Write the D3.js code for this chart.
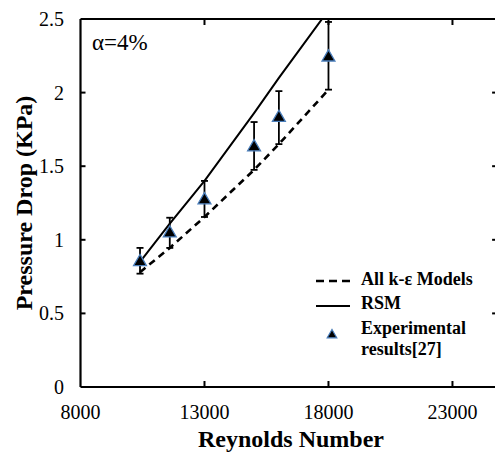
<!DOCTYPE html>
<html>
<head>
<meta charset="utf-8">
<script src="https://cdn.jsdelivr.net/npm/d3@7"></script>
<style>
  html, body { margin: 0; padding: 0; background: #fff; }
  svg { display: block; }
</style>
</head>
<body>
<svg id="chart" width="495" height="457"></svg>
<script>
// Reynolds numbers of the test cases
const reynolds = [10400, 11600, 13000, 15000, 16000, 18000];
// Pressure drop (kPa) predicted by the k-epsilon family and the RSM model
const kEpsilon = [0.78, 0.945, 1.155, 1.475, 1.65, 2.02];
const rsm = [0.85, 1.11, 1.40, 1.86, 2.10, 2.56];
// Experimental pressure drop with error bar limits
const experimental = [0.85, 1.045, 1.27, 1.63, 1.83, 2.24];
const errLow = [0.77, 0.945, 1.155, 1.475, 1.65, 2.02];
const errHigh = [0.945, 1.15, 1.40, 1.80, 2.01, 2.48];
// Axis ticks
const xTicks = [8000, 13000, 18000, 23000];
const yTicks = [0, 0.5, 1, 1.5, 2, 2.5];

(function draw() {
  const svg = d3.select("#chart");
  const serif = '"Liberation Serif"';

  const x = d3.scaleLinear().domain([8000, 24800]).range([80.5, 497.1]);
  const y = d3.scaleLinear().domain([0, 2.5]).range([387, 19]);

  const xL = x.range()[0], xR = x.range()[1];
  const yT = y.range()[1], yB = y.range()[0];

  // clip for the model curves
  svg.append("defs").append("clipPath").attr("id", "plot")
    .append("rect").attr("x", xL).attr("y", yT)
    .attr("width", xR - xL).attr("height", yB - yT);

  // frame
  const frame = svg.append("g").attr("stroke", "#000").attr("stroke-width", 2.2).attr("fill", "none");
  frame.append("line").attr("x1", xL).attr("x2", xR + 5).attr("y1", yB).attr("y2", yB);
  frame.append("line").attr("x1", xL).attr("x2", xR + 5).attr("y1", yT).attr("y2", yT);
  frame.append("line").attr("x1", xL).attr("x2", xL).attr("y1", yT).attr("y2", yB);
  frame.append("line").attr("x1", xR).attr("x2", xR).attr("y1", yT).attr("y2", yB);

  // inward ticks
  const ticks = svg.append("g").attr("stroke", "#000").attr("stroke-width", 2);
  xTicks.slice(1).forEach(t => {
    ticks.append("line").attr("x1", x(t)).attr("x2", x(t)).attr("y1", yB).attr("y2", yB - 6);
    ticks.append("line").attr("x1", x(t)).attr("x2", x(t)).attr("y1", yT).attr("y2", yT + 6);
  });
  yTicks.slice(1, -1).forEach(t => {
    ticks.append("line").attr("x1", xL).attr("x2", xL + 5).attr("y1", y(t)).attr("y2", y(t));
    ticks.append("line").attr("x1", xR).attr("x2", xR - 5).attr("y1", y(t)).attr("y2", y(t));
  });

  // tick labels
  svg.append("g").selectAll("text").data(xTicks).join("text")
    .attr("x", d => x(d)).attr("y", 419)
    .attr("text-anchor", "middle")
    .style("font-family", serif).style("font-size", "20px")
    .text(d => d);
  svg.append("g").selectAll("text").data(yTicks).join("text")
    .attr("x", 64).attr("y", d => y(d) + 7)
    .attr("text-anchor", "end")
    .style("font-family", serif).style("font-size", "20px")
    .text(d => d);

  // axis titles
  svg.append("text")
    .attr("x", 291).attr("y", 447)
    .attr("text-anchor", "middle")
    .style("font-family", serif).style("font-size", "24px").style("font-weight", "bold")
    .text("Reynolds Number");
  svg.append("text")
    .attr("transform", "translate(32,203) rotate(-90)")
    .attr("text-anchor", "middle")
    .style("font-family", serif).style("font-size", "24px").style("font-weight", "bold")
    .text("Pressure Drop (KPa)");

  // annotation
  svg.append("text")
    .attr("x", 92).attr("y", 50)
    .style("font-family", serif).style("font-size", "23px")
    .text("α=4%");

  // model curves
  const line = (vals) => d3.line().x((d, i) => x(reynolds[i])).y(d => y(d))(vals);
  const curves = svg.append("g").attr("clip-path", "url(#plot)").attr("fill", "none").attr("stroke", "#000");
  curves.append("path").attr("d", line(kEpsilon))
    .attr("stroke-width", 2.6).attr("stroke-dasharray", "7,5");
  curves.append("path").attr("d", line(rsm))
    .attr("stroke-width", 2);

  // error bars
  const eb = svg.append("g").attr("stroke", "#000").attr("stroke-width", 1.8);
  reynolds.forEach((r, i) => {
    const cx = x(r);
    eb.append("line").attr("x1", cx).attr("x2", cx).attr("y1", y(errLow[i])).attr("y2", y(errHigh[i]));
    eb.append("line").attr("x1", cx - 3.5).attr("x2", cx + 3.5).attr("y1", y(errLow[i])).attr("y2", y(errLow[i]));
    eb.append("line").attr("x1", cx - 3.5).attr("x2", cx + 3.5).attr("y1", y(errHigh[i])).attr("y2", y(errHigh[i]));
  });

  // experimental markers
  const tri = d3.symbol().type(d3.symbolTriangle).size(72);
  svg.append("g").selectAll("path").data(experimental).join("path")
    .attr("transform", (d, i) => `translate(${x(reynolds[i])},${y(d)})`)
    .attr("d", tri)
    .attr("fill", "#000").attr("stroke", "#4a7ebb").attr("stroke-width", 1.3);

  // legend
  const lg = svg.append("g");
  const ltext = (yy, s) => lg.append("text").attr("x", 361).attr("y", yy)
    .style("font-family", serif).style("font-size", "18px").style("font-weight", "bold").text(s);
  lg.append("line").attr("x1", 316).attr("x2", 350).attr("y1", 281).attr("y2", 281)
    .attr("stroke", "#000").attr("stroke-width", 2.6).attr("stroke-dasharray", "8,5");
  ltext(285, "All k-ε Models");
  lg.append("line").attr("x1", 316).attr("x2", 350).attr("y1", 306).attr("y2", 306)
    .attr("stroke", "#000").attr("stroke-width", 2);
  ltext(309, "RSM");
  lg.append("path").attr("transform", "translate(332,335)").attr("d", d3.symbol().type(d3.symbolTriangle).size(40))
    .attr("fill", "#000").attr("stroke", "#4a7ebb").attr("stroke-width", 1.2);
  ltext(334, "Experimental");
  ltext(355, "results[27]");
})();
</script>
</body>
</html>
